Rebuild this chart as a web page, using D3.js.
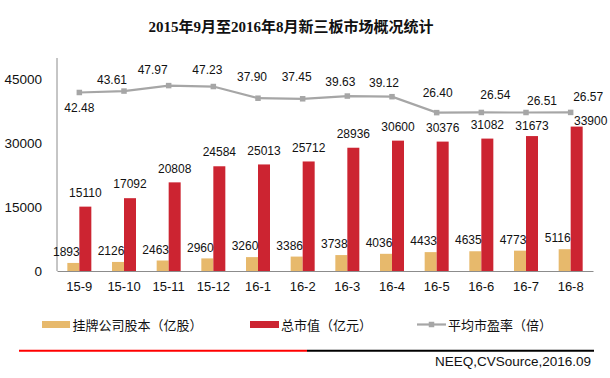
<!DOCTYPE html>
<html><head><meta charset="utf-8">
<script src="https://cdn.jsdelivr.net/npm/d3@7/dist/d3.min.js"></script>
<style>
body{margin:0;background:#fff;}
svg{display:block;}
text{font-family:Arial,"Liberation Sans",sans-serif;fill:#111;}
.cjk{font-family:"Noto Sans CJK SC",sans-serif;}
</style></head>
<body>
<script>
// ---- data ----
const categories = ["15-9","15-10","15-11","15-12","16-1","16-2","16-3","16-4","16-5","16-6","16-7","16-8"];
const shareCapital = [1893,2126,2463,2960,3260,3386,3738,4036,4433,4635,4773,5116];
const marketValue = [15110,17092,20808,24584,25013,25712,28936,30600,30376,31082,31673,33900];
const peRatio = [42.48,43.61,47.97,47.23,37.90,37.45,39.63,39.12,26.40,26.54,26.51,26.57];
const yTicks = [0,15000,30000,45000];
const seriesNames = ["挂牌公司股本（亿股）","总市值（亿元）","平均市盈率（倍）"];
const titleText = "2015年9月至2016年8月新三板市场概况统计";
const sourceText = "NEEQ,CVSource,2016.09";

// ---- layout (label placement nudges, not data) ----
const peLabelDx = [0,-12,-16,-6,-6,-6,-7,-8,1,14,16,17.5];
const peLabelDy = [15,-11,-16,-17,-21,-21.5,-14.5,-13.5,-20,-17.5,-11.5,-16];
const mvLabelNudge = {"16-7":[0,4],"16-8":[14,8]};

const W=610,H=378;
const colGold="#E7B96C", colRed="#CC2431", colGrey="#A6A6A6", axisCol="#8C8C8C";
const svg=d3.select("body").append("svg").attr("width",W).attr("height",H);

const x=d3.scaleBand().domain(categories).range([57,593]).paddingInner(0).paddingOuter(0);
const y=d3.scaleLinear().domain([0,50000]).range([271,58]);
const y2=d3.scaleLinear().domain([-100,70]).range([271,58]);
const barW=12;
const cx=c=>x(c)+x.bandwidth()/2;

// title
svg.append("text").attr("x",291).attr("y",27).attr("text-anchor","middle")
  .attr("dominant-baseline","central")
  .style("font-family",'"Liberation Serif","Noto Sans CJK SC",serif')
  .style("font-weight","bold").style("font-size","15px").text(titleText);

// y axis
const yAxis=d3.axisLeft(y).tickValues(yTicks).tickSize(0).tickPadding(15).tickFormat(d3.format("d"));
const gy=svg.append("g").attr("transform","translate(57,0)").call(yAxis);
gy.select(".domain").remove();
gy.selectAll("text").style("font-size","13.5px").style("font-family","Arial,'Liberation Sans'").attr("fill","#111");
svg.append("line").attr("x1",57).attr("x2",57).attr("y1",58).attr("y2",271).attr("stroke",axisCol);

// x axis
const xAxis=d3.axisBottom(x).tickSize(0).tickPadding(11);
const gx=svg.append("g").attr("transform","translate(0,271)").call(xAxis);
gx.select(".domain").attr("stroke",axisCol);
gx.selectAll("text").style("font-size","13px").style("font-family","Arial,'Liberation Sans'").attr("fill","#111");

// bars
svg.append("g").selectAll("rect").data(categories).join("rect")
  .attr("x",c=>cx(c)-barW).attr("width",barW)
  .attr("y",(c,i)=>y(shareCapital[i])).attr("height",(c,i)=>y(0)-y(shareCapital[i]))
  .attr("fill",colGold);
svg.append("g").selectAll("rect").data(categories).join("rect")
  .attr("x",c=>cx(c)).attr("width",barW)
  .attr("y",(c,i)=>y(marketValue[i])).attr("height",(c,i)=>y(0)-y(marketValue[i]))
  .attr("fill",colRed);

// bar labels
svg.append("g").selectAll("text").data(categories).join("text")
  .attr("text-anchor","middle").style("font-size","12px")
  .attr("x",c=>cx(c)-barW/2-7).attr("y",(c,i)=>y(shareCapital[i])-11+4.2)
  .text((c,i)=>shareCapital[i]);
svg.append("g").selectAll("text").data(categories).join("text")
  .attr("text-anchor","middle").style("font-size","12px")
  .attr("x",c=>cx(c)+barW/2+(mvLabelNudge[c]?mvLabelNudge[c][0]:0))
  .attr("y",(c,i)=>y(marketValue[i])-14+4.2+(mvLabelNudge[c]?mvLabelNudge[c][1]:0))
  .text((c,i)=>marketValue[i]);

// PE line
const line=d3.line().x((d,i)=>cx(categories[i])).y(d=>y2(d));
svg.append("path").datum(peRatio).attr("d",line).attr("fill","none")
  .attr("stroke",colGrey).attr("stroke-width",2.2);
svg.append("g").selectAll("rect").data(peRatio).join("rect")
  .attr("x",(d,i)=>cx(categories[i])-2.75).attr("y",d=>y2(d)-2.75)
  .attr("width",5.5).attr("height",5.5).attr("fill",colGrey);
svg.append("g").selectAll("text").data(peRatio).join("text")
  .attr("text-anchor","middle").style("font-size","12px")
  .attr("x",(d,i)=>cx(categories[i])+peLabelDx[i])
  .attr("y",(d,i)=>y2(d)+peLabelDy[i]+4.2)
  .text(d=>d.toFixed(2));

// legend
const ly=324.5;
const lg=svg.append("g");
lg.append("rect").attr("x",42).attr("y",ly-3.5).attr("width",28).attr("height",7).attr("fill",colGold);
lg.append("text").attr("class","cjk").attr("x",72.5).attr("y",ly).attr("dominant-baseline","central").style("font-size","13px").text(seriesNames[0]);
lg.append("rect").attr("x",250).attr("y",ly-3.5).attr("width",29).attr("height",7).attr("fill",colRed);
lg.append("text").attr("class","cjk").attr("x",281).attr("y",ly).attr("dominant-baseline","central").style("font-size","13px").text(seriesNames[1]);
lg.append("line").attr("x1",417).attr("x2",446).attr("y1",ly).attr("y2",ly).attr("stroke",colGrey).attr("stroke-width",2.2);
lg.append("rect").attr("x",431.5-2.75).attr("y",ly-2.75).attr("width",5.5).attr("height",5.5).attr("fill",colGrey);
lg.append("text").attr("class","cjk").attr("x",448).attr("y",ly).attr("dominant-baseline","central").style("font-size","13px").text(seriesNames[2]);

// bottom rule and source
svg.append("line").attr("x1",19).attr("x2",307).attr("y1",350.7).attr("y2",350.7).attr("stroke","#FF0000").attr("stroke-width",2);
svg.append("line").attr("x1",307).attr("x2",594).attr("y1",350.7).attr("y2",350.7).attr("stroke","#000").attr("stroke-width",2);
svg.append("text").attr("x",591).attr("y",361).attr("text-anchor","end").attr("dominant-baseline","central")
  .style("font-size","13.5px").attr("fill","#222").text(sourceText);
</script>
</body></html>
